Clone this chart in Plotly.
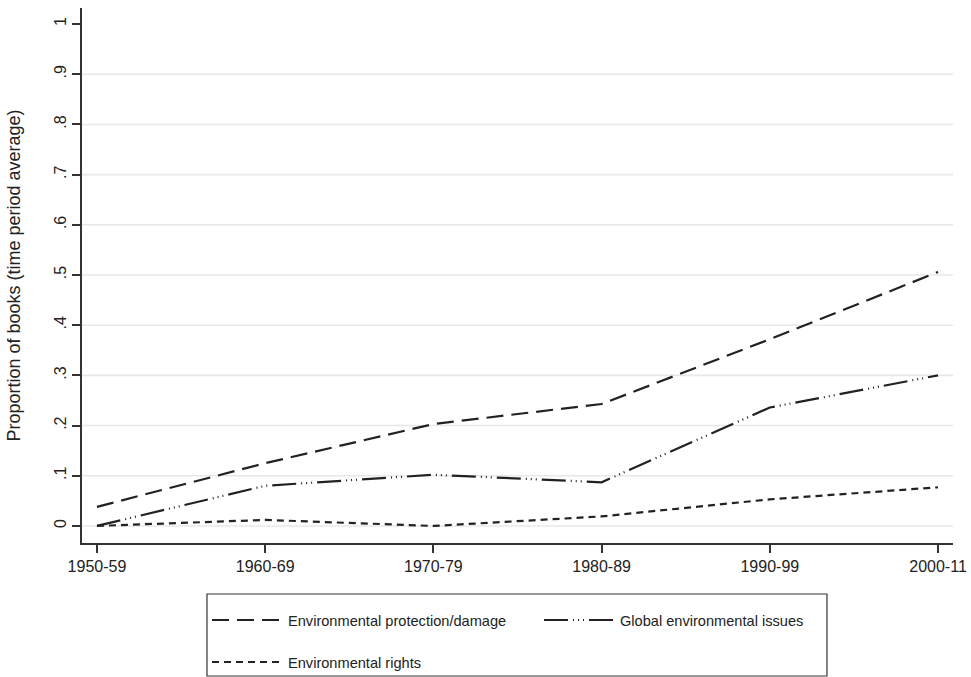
import plotly.graph_objects as go

# Decades on the x axis
periods = ["1950-59", "1960-69", "1970-79", "1980-89", "1990-99", "2000-11"]

# Proportion of books per period for each theme
protection = [0.038, 0.125, 0.203, 0.243, 0.372, 0.506]
global_issues = [0.0, 0.080, 0.102, 0.087, 0.236, 0.300]
rights = [0.0, 0.012, 0.0, 0.019, 0.053, 0.077]

y_ticks = [0, 0.1, 0.2, 0.3, 0.4, 0.5, 0.6, 0.7, 0.8, 0.9, 1.0]
y_tick_text = ["0", ".1", ".2", ".3", ".4", ".5", ".6", ".7", ".8", ".9", "1"]

FONT = "Liberation Sans, Arial, sans-serif"
INK = "#222222"
AXIS = "#333333"

x_idx = list(range(len(periods)))

fig = go.Figure()
fig.add_trace(go.Scatter(
    x=x_idx, y=protection, mode="lines", name="Environmental protection/damage",
    line=dict(color=INK, width=2.2, dash="17px,8px"), legend="legend",
))
fig.add_trace(go.Scatter(
    x=x_idx, y=global_issues, mode="lines", name="Global environmental issues",
    line=dict(color=INK, width=2.2, dash="24px,5px,1px,4px,1px,4px,1px,5px"),
    legend="legend",
))
fig.add_trace(go.Scatter(
    x=x_idx, y=rights, mode="lines", name="Environmental rights",
    line=dict(color=INK, width=2.2, dash="7px,5px"), legend="legend2",
))

# Light horizontal grid at every labelled tick except the top one
shapes = [
    dict(type="line", xref="paper", x0=0, x1=1, yref="y", y0=v, y1=v,
         line=dict(color="#e8e8e8", width=1.6), layer="below")
    for v in y_ticks[:-1]
]
# Frame around the key below the plot
shapes.append(dict(
    type="rect", xref="paper", yref="paper",
    x0=0.1435, x1=0.8553, y0=-0.2486, y1=-0.0953,
    line=dict(color=AXIS, width=1.2), fillcolor="white", layer="below",
))

legend_common = dict(
    orientation="h", xanchor="left", yanchor="top",
    borderwidth=0, bgcolor="rgba(0,0,0,0)",
    font=dict(family=FONT, size=14.6, color=INK),
    itemwidth=71, entrywidth=246, entrywidthmode="pixels",
)

fig.update_layout(
    width=971, height=677,
    margin=dict(l=82, r=18, t=8, b=134, autoexpand=False),
    paper_bgcolor="white", plot_bgcolor="white",
    font=dict(family=FONT, size=16, color=INK),
    shapes=shapes,
    xaxis=dict(
        range=[-0.089, 5.089], automargin=False,
        tickmode="array", tickvals=x_idx, ticktext=periods,
        showgrid=False, zeroline=False,
        showline=True, linecolor=AXIS, linewidth=2,
        ticks="outside", ticklen=8, tickwidth=1.5, tickcolor=AXIS,
        tickfont=dict(size=16),
    ),
    yaxis=dict(
        range=[-0.034, 1.032], automargin=False,
        tickmode="array", tickvals=y_ticks, ticktext=y_tick_text,
        tickangle=-90,
        showgrid=False, zeroline=False,
        showline=True, linecolor=AXIS, linewidth=2,
        ticks="outside", ticklen=8, tickwidth=1.5, tickcolor=AXIS,
        tickfont=dict(size=16),
        title=dict(text="Proportion of books (time period average)",
                   font=dict(size=18), standoff=26),
    ),
    showlegend=True,
    legend=dict(x=0.1435, y=-0.1140, **legend_common),
    legend2=dict(x=0.1435, y=-0.1925, **legend_common),
)

fig.write_html("out.html")
